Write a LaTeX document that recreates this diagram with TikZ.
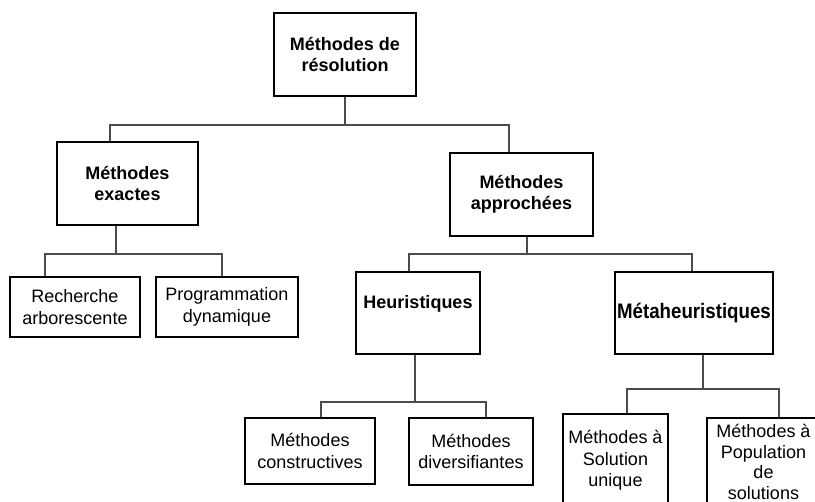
\documentclass[tikz,border=0pt]{standalone}
\usepackage{fontspec}
\setmainfont{Liberation Sans}
\newfontfamily\etroite{Liberation Sans}[FakeStretch=0.89]
\usetikzlibrary{calc}

\tikzset{
  boite/.style={draw=black, line width=2.2pt, inner sep=0pt, align=center, font=\fontsize{18}{21.5}\selectfont},
  boitegras/.style={boite, font=\bfseries\fontsize{18}{20.5}\selectfont},
  texte/.style={inner sep=0pt, align=center, font=\fontsize{18}{21.5}\selectfont},
  lien/.style={draw=black!70, line width=1.2pt}
}

\begin{document}
\begin{tikzpicture}[x=1pt,y=-1pt]
        \useasboundingbox (0,0) rectangle (815,502);
        \clip (0,0) rectangle (815,502);

        \node[boitegras, minimum width=142, minimum height=83] (resolution) at (345,54.5) {Méthodes de\\résolution};
        \node[boitegras, minimum width=141, minimum height=83] (exactes) at (127.5,183.5) {Méthodes\\exactes};
        \node[boitegras, minimum width=143, minimum height=83] (approchees) at (521.5,194.5) {Méthodes\\approchées};
        \node[boite, minimum width=130, minimum height=60] (recherche) at (75,307) {Recherche\\arborescente};
        \node[boite, minimum width=142, minimum height=60] (programmation) at (227,307) {Programmation\\dynamique};
        \node[boitegras, minimum width=124, minimum height=82, text height=13pt, text depth=22pt] (heuristiques) at (418,313) {Heuristiques};
        \node[boite, minimum width=158, minimum height=82, font=\etroite\bfseries\fontsize{21}{24}\selectfont] (meta) at (694,313) {Métaheuristiques};
        \node[boite, minimum width=130, minimum height=66] (constructives) at (310,451) {Méthodes\\constructives};
        \node[boite, minimum width=124, minimum height=67] (diversifiantes) at (471,451.5) {Méthodes\\diversifiantes};
        \node[boite, minimum width=105, minimum height=120, anchor=north] (unique) at (615.5,413) {};
        \node[texte, anchor=north] (unique-t) at (615.5,430.5) {Méthodes à\\Solution\\unique};
        \node[boite, minimum width=113, minimum height=120, anchor=north] (population) at (763.5,417) {};
        \node[texte, anchor=north, font=\fontsize{18}{20.5}\selectfont] (population-t) at (763.5,424.5) {Méthodes à\\Population\\de\\solutions};

        % embranchements
        \coordinate (b1g) at (110,125);
        \coordinate (b1d) at (509,125);
        \draw[lien] (resolution.south) -- (resolution.south |- b1g);
        \draw[lien] (exactes.north -| b1g) -- (b1g) -- (b1d) -- (b1d |- approchees.north);

        \coordinate (b2m) at (116,254);
        \coordinate (b2g) at (45,254);
        \coordinate (b2d) at (222,254);
        \draw[lien] (exactes.south -| b2m) -- (b2m);
        \draw[lien] (recherche.north -| b2g) -- (b2g) -- (b2d) -- (b2d |- programmation.north);

        \coordinate (b3m) at (527,254);
        \coordinate (b3g) at (409,254);
        \coordinate (b3d) at (692,254);
        \draw[lien] (approchees.south -| b3m) -- (b3m);
        \draw[lien] (heuristiques.north -| b3g) -- (b3g) -- (b3d) -- (b3d |- meta.north);

        \coordinate (b4m) at (415,402);
        \coordinate (b4g) at (321,402);
        \coordinate (b4d) at (486,402);
        \draw[lien] (heuristiques.south -| b4m) -- (b4m);
        \draw[lien] (constructives.north -| b4g) -- (b4g) -- (b4d) -- (b4d |- diversifiantes.north);

        \coordinate (b5m) at (703,389);
        \coordinate (b5g) at (627,389);
        \coordinate (b5d) at (779,389);
        \draw[lien] (meta.south -| b5m) -- (b5m);
        \draw[lien] (unique.north -| b5g) -- (b5g) -- (b5d) -- (b5d |- population.north);
\end{tikzpicture}
\end{document}
